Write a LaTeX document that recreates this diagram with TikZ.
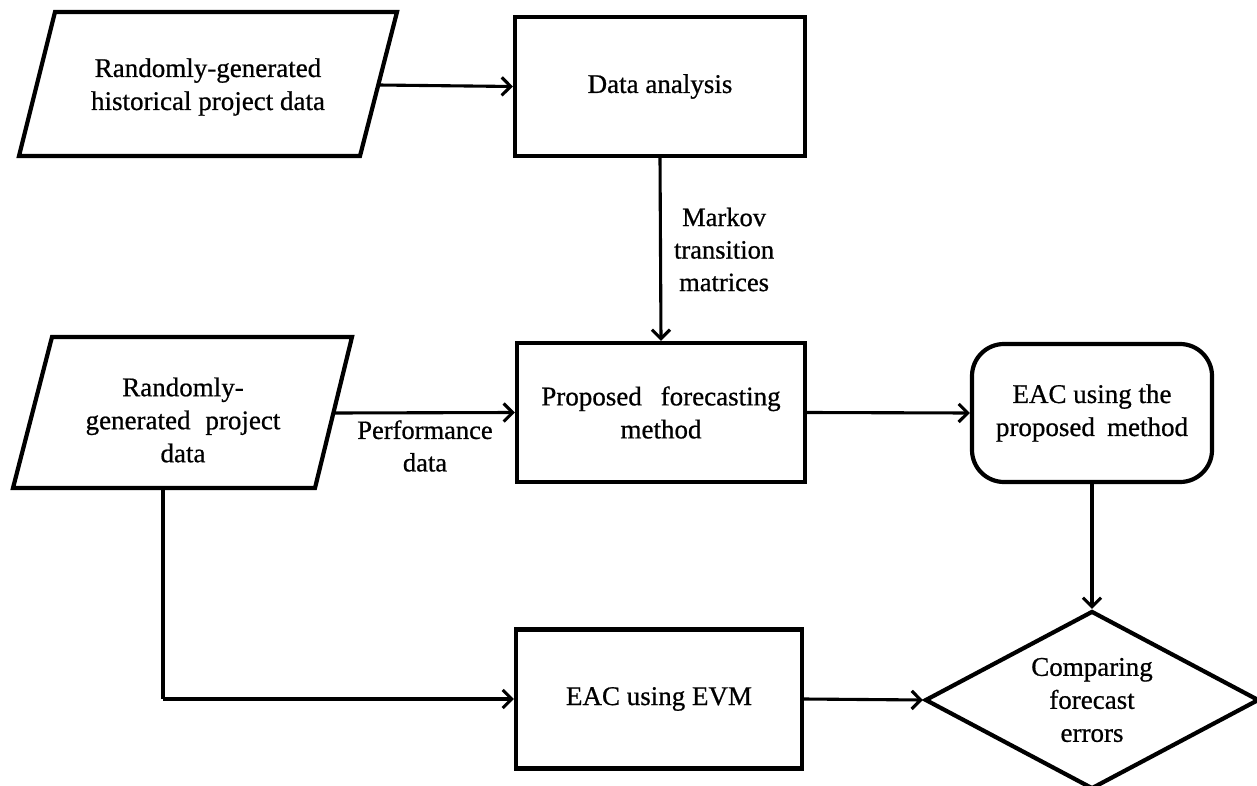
\documentclass[tikz,border=0pt]{standalone}
\usepackage{fontspec}
\setmainfont{Liberation Serif}[FakeBold=0.7]
\usetikzlibrary{arrows.meta,shapes.geometric,calc}
\begin{document}
\begin{tikzpicture}[x=1pt,y=-1pt,
  boxtext/.style={font=\fontsize{27}{33}\selectfont, align=center},
  lbltext/.style={font=\fontsize{26.5}{32.5}\selectfont, align=center, inner sep=0pt},
  procbox/.style={draw, line width=4.2pt, boxtext, minimum width=288pt, minimum height=139pt, inner sep=0pt},
  resultbox/.style={procbox, rounded corners=32pt, minimum width=240pt, minimum height=138pt},
  decision/.style={draw, diamond, line width=4.2pt, boxtext, aspect=1.88, inner sep=0pt,
                   minimum width=334pt, minimum height=178pt},
  inputshape/.style={draw, line width=4.2pt, line join=miter},
  conn/.style={line width=3.1pt, -{Straight Barb[length=9pt,width=18pt,line width=3.1pt]}},
  plainconn/.style={line width=3.1pt}
]
\useasboundingbox (0,0) rectangle (1257,786);

% input data (parallelograms)
\draw[inputshape] (55,12) -- (397,12) -- (360,156) -- (19,156) -- cycle;
\coordinate (histout) at (378.5,85);
\node[boxtext] (hist) at (208,87) {Randomly-generated\\historical project data};

\draw[inputshape] (52,337) -- (352,337) -- (315,488) -- (13,488) -- cycle;
\coordinate (projout) at (333.4,413);
\coordinate (projdown) at (163,488);
\coordinate (projbend) at (163,699);
\node[boxtext] (proj) at (183,420) {Randomly-\\generated\hspace{0.3em} project\\data};

% processes
\node[procbox, minimum width=290pt] (analysis) at (660,86.5) {Data analysis};
\node[procbox] (method) at (661,412.5) {Proposed\hspace{0.45em} forecasting\\method};
\node[procbox, minimum width=286pt] (evm) at (659,699) {EAC using EVM};
\node[resultbox] (eac) at (1092,413) {EAC using the\\proposed\hspace{0.2em} method};
\node[decision] (cmp) at (1092,700) {Comparing\\forecast\\errors};

% connectors
\draw[conn] (histout) -- (analysis.west);
\draw[conn] (analysis.south) -- node[lbltext, right=12pt, midway] (markov) {Markov\\transition\\matrices} (method.north);
\draw[conn] (projout) -- (method.west);
\node[lbltext] (perf) at (425,446) {Performance\\data};
\draw[conn] (method.east) -- (eac.west);
\draw[conn] (eac.south) -- (cmp.north);
\draw[plainconn] (projdown) -- (projbend);
\draw[conn] (projbend) -- (evm.west);
\draw[conn] (evm.east) -- (cmp.west);
\end{tikzpicture}
\end{document}
